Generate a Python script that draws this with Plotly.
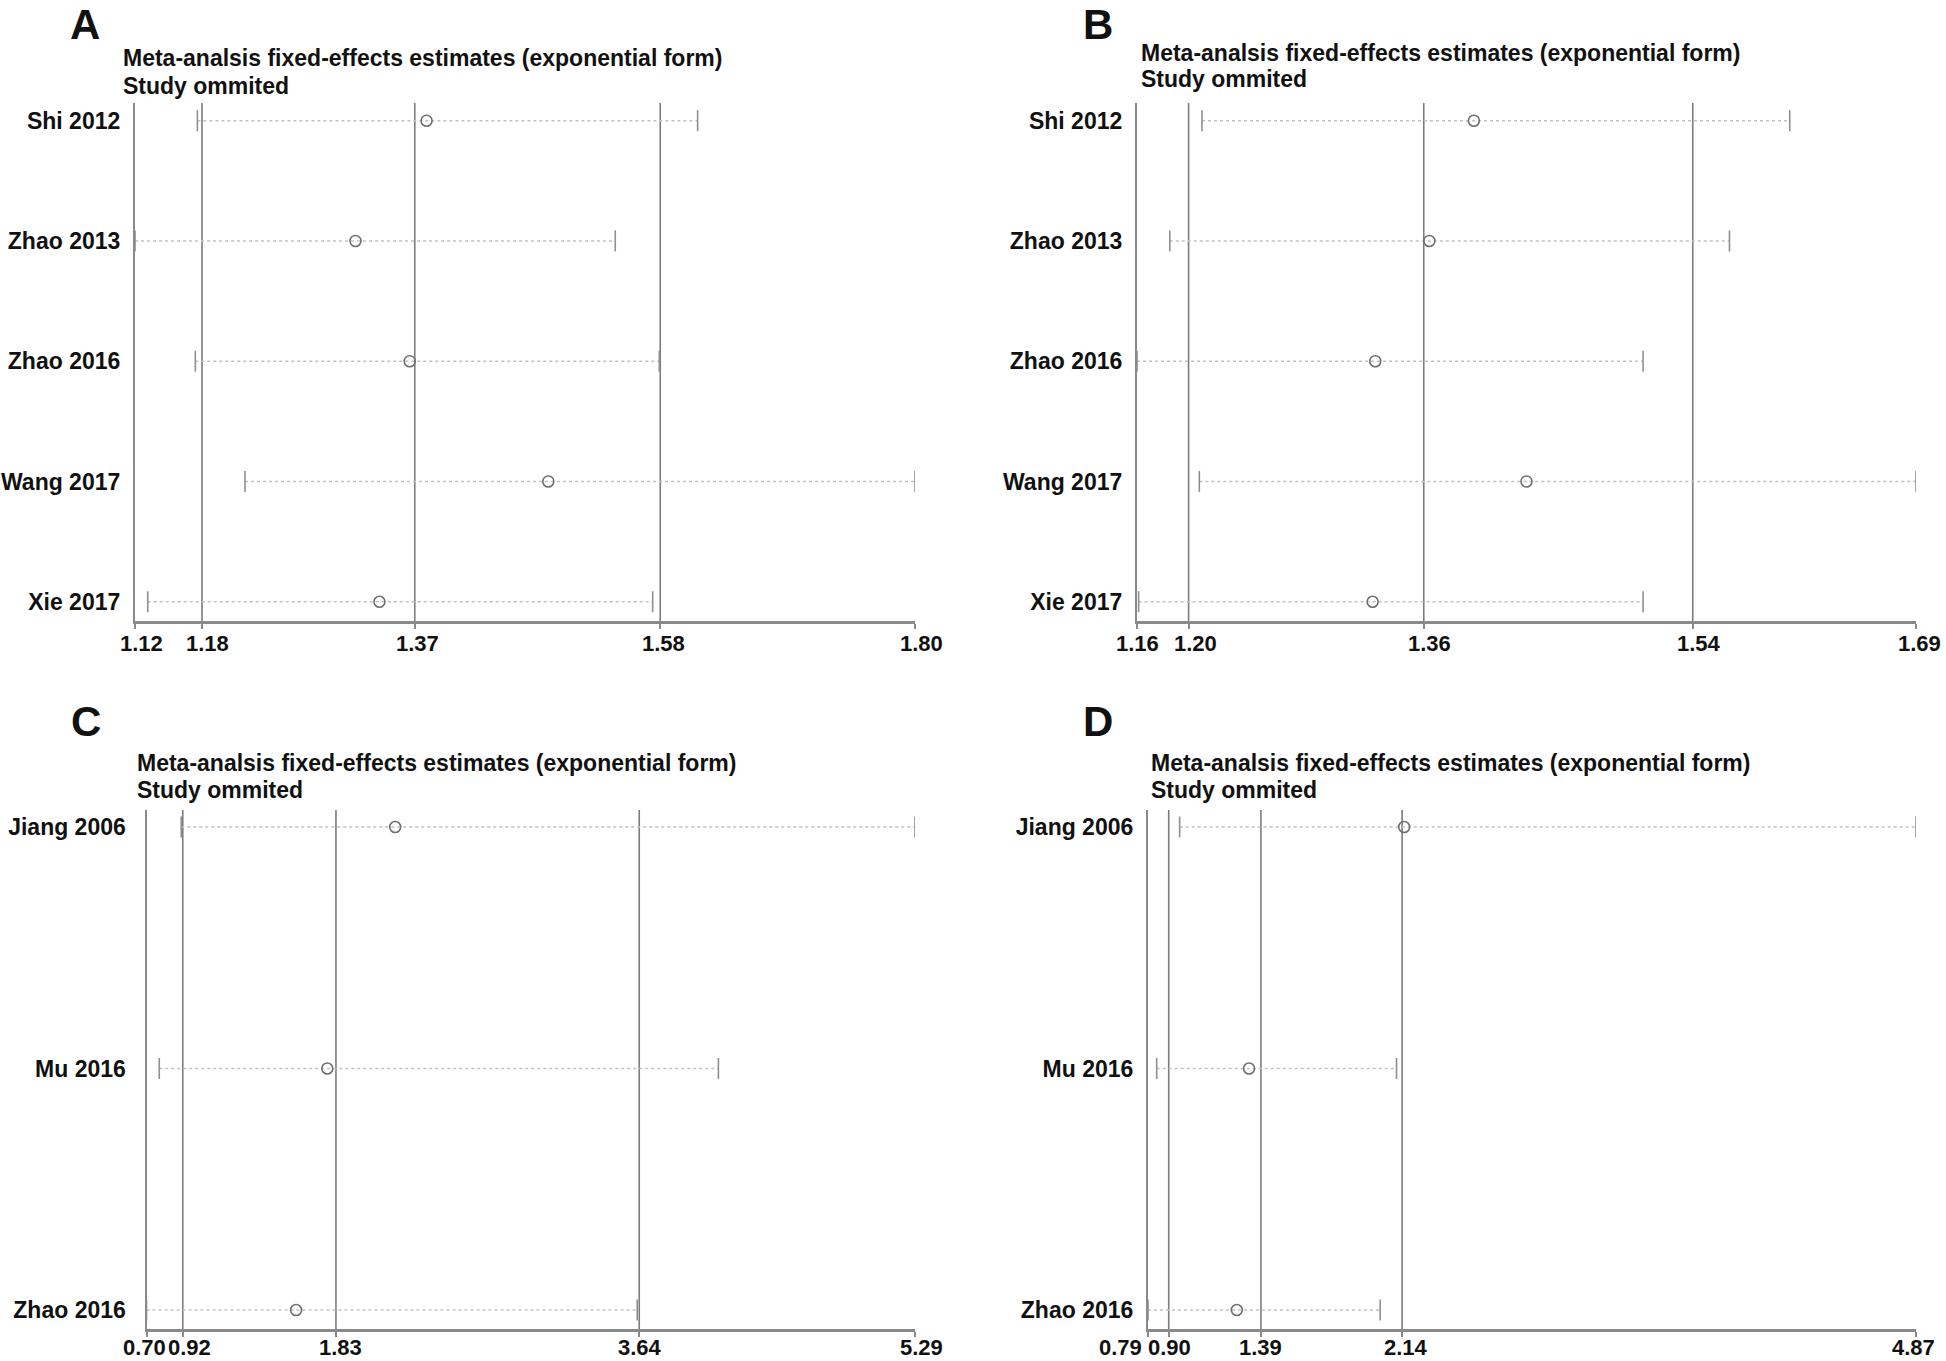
import plotly.graph_objects as go

# ---------------- data ----------------
studies_AB = ["Shi 2012", "Zhao 2013", "Zhao 2016", "Wang 2017", "Xie 2017"]
studies_CD = ["Jiang 2006", "Mu 2016", "Zhao 2016"]

est_A = [1.3791, 1.3171, 1.3644, 1.4852, 1.3380]
lo_A = [1.1793, 1.1249, 1.1775, 1.2208, 1.1360]
hi_A = [1.6154, 1.5436, 1.5820, 1.8049, 1.5762]
overall_A = [1.1833, 1.3688, 1.5828]
ticks_A = ["1.12", "1.18", "1.37", "1.58", "1.80"]

est_B = [1.3941, 1.3638, 1.3270, 1.4299, 1.3252]
lo_B = [1.2091, 1.1872, 1.1649, 1.2073, 1.1660]
hi_B = [1.6090, 1.5680, 1.5092, 1.6949, 1.5092]
overall_B = [1.2000, 1.3600, 1.5430]
ticks_B = ["1.16", "1.20", "1.36", "1.54", "1.69"]

est_C = [2.1853, 1.7796, 1.5936]
lo_C = [0.9074, 0.7762, 0.7000]
hi_C = [5.2900, 4.1158, 3.6309]
overall_C = [0.9166, 1.8315, 3.6430]
ticks_C = ["0.70", "0.92", "1.83", "3.64", "5.29"]

est_D = [2.1509, 1.3268, 1.2617]
lo_D = [0.9581, 0.8361, 0.7900]
hi_D = [4.8700, 2.1103, 2.0235]
overall_D = [0.9000, 1.3900, 2.1400]
ticks_D = ["0.79", "0.90", "1.39", "2.14", "4.87"]

panel_letters = ["A", "B", "C", "D"]
title_1 = "Meta-analsis fixed-effects estimates (exponential form)"
title_2 = "Study ommited"

# ---------------- layout / style ----------------
W, H = 1946, 1361
FONT = "Liberation Sans, Arial, sans-serif"
AXIS_GREY = "#8a8a8a"
REF_GREY = "#7c7c7c"
DOT_GREY = "#c2c2c2"
BLACK = "#111111"

panels = [
    dict(studies=studies_AB, est=est_A, lo=lo_A, hi=hi_A, overall=overall_A, ticks=ticks_A,
         xpx=(135, 915), ypx=(103, 621), yr=(0.8395, 5.147), ystand=8,
         tshift=[6, 6, 3, 3, 6], tdown=22,
         letter=(85, 25), t1=(121, 58), t2=(121, 86)),
    dict(studies=studies_AB, est=est_B, lo=lo_B, hi=hi_B, overall=overall_B, ticks=ticks_B,
         xpx=(1137, 1916), ypx=(103, 621), yr=(0.8395, 5.147), ystand=8,
         tshift=[0, 7, 6, 6, 3], tdown=22,
         letter=(1098, 25), t1=(1139, 53), t2=(1139, 79)),
    dict(studies=studies_CD, est=est_C, lo=lo_C, hi=hi_C, overall=overall_C, ticks=ticks_C,
         xpx=(146.5, 915), ypx=(810, 1329), yr=(0.9213, 3.0704), ystand=14,
         tshift=[-2, 7, 5, 1, 6], tdown=18,
         letter=(86, 722), t1=(135, 763), t2=(135, 790)),
    dict(studies=studies_CD, est=est_D, lo=lo_D, hi=hi_D, overall=overall_D, ticks=ticks_D,
         xpx=(1148, 1916), ypx=(810, 1329), yr=(0.9213, 3.0704), ystand=8,
         tshift=[-28, 1, 0, 4, -3], tdown=18,
         letter=(1098, 722), t1=(1149, 763), t2=(1149, 790)),
]

fig = go.Figure()
layout = dict(width=W, height=H, margin=dict(l=0, r=0, t=0, b=0, autoexpand=False),
              plot_bgcolor="white", paper_bgcolor="white", showlegend=False,
              font=dict(family=FONT, color=BLACK))
shapes = []
annotations = []

for i, p in enumerate(panels):
    n = i + 1
    xa = "x" if n == 1 else f"x{n}"
    ya = "y" if n == 1 else f"y{n}"
    k = len(p["studies"])
    ypos = list(range(k, 0, -1))
    xmin = min(p["lo"])
    xmax = max(p["hi"])

    # CI dotted lines
    for yv, lo, hi in zip(ypos, p["lo"], p["hi"]):
        fig.add_trace(go.Scatter(x=[lo, hi], y=[yv, yv], mode="lines", xaxis=xa, yaxis=ya,
                                 line=dict(color=DOT_GREY, width=1.6, dash="dot"),
                                 hoverinfo="skip"))
    # CI caps
    fig.add_trace(go.Scatter(x=p["lo"] + p["hi"], y=ypos + ypos, mode="markers", xaxis=xa, yaxis=ya,
                             marker=dict(symbol="line-ns", size=15, line=dict(color="#8f8f8f", width=1.6)),
                             hoverinfo="skip"))
    # point estimates
    fig.add_trace(go.Scatter(x=p["est"], y=ypos, mode="markers", xaxis=xa, yaxis=ya,
                             marker=dict(symbol="circle-open", size=11, color="#6f6f6f",
                                         line=dict(color="#6f6f6f", width=1.6))))

    # overall CI / estimate reference lines
    for v in p["overall"]:
        shapes.append(dict(type="line", xref=xa, yref=f"{ya} domain", x0=v, x1=v, y0=0, y1=1,
                           line=dict(color=REF_GREY, width=1.6), layer="below"))

    tickvals = [xmin] + p["overall"] + [xmax]
    x0p, x1p = p["xpx"]
    y0p, y1p = p["ypx"]
    layout[("xaxis" if n == 1 else f"xaxis{n}")] = dict(
        domain=[x0p / W, x1p / W], anchor=ya, range=[xmin, xmax], automargin=False,
        tickvals=tickvals, showticklabels=False, showgrid=False, zeroline=False,
        showline=True, linecolor=AXIS_GREY, linewidth=2.5,
        ticks="outside", ticklen=5, tickwidth=1.5, tickcolor=AXIS_GREY)
    layout[("yaxis" if n == 1 else f"yaxis{n}")] = dict(
        domain=[1 - y1p / H, 1 - y0p / H], anchor=xa, range=list(p["yr"]), automargin=False,
        tickvals=ypos, ticktext=p["studies"], showgrid=False, zeroline=False,
        showline=True, linecolor=AXIS_GREY, linewidth=2.2, ticks="",
        tickfont=dict(family=FONT, size=23, color=BLACK, weight="bold"),
        ticklabelstandoff=p["ystand"])

    # x tick labels (text placed on the axis scale, nudged to avoid overlap as in the original)
    for tv, tt, sh in zip(tickvals, p["ticks"], p["tshift"]):
        annotations.append(dict(text=tt, x=tv, y=0, xref=xa, yref=f"{ya} domain",
                                xanchor="center", yanchor="middle", xshift=sh, yshift=-p["tdown"],
                                showarrow=False,
                                font=dict(family=FONT, size=22, color=BLACK, weight="bold")))

    lx, ly = p["letter"]
    annotations.append(dict(text=panel_letters[i], x=lx / W, y=1 - ly / H, xref="paper", yref="paper",
                            xanchor="center", yanchor="middle", showarrow=False,
                            font=dict(family=FONT, size=42, color=BLACK, weight="bold")))
    for txt, (tx, ty) in ((title_1, p["t1"]), (title_2, p["t2"])):
        annotations.append(dict(text=txt, x=tx / W, y=1 - ty / H, xref="paper", yref="paper",
                                xanchor="left", yanchor="middle", showarrow=False,
                                font=dict(family=FONT, size=23, color=BLACK, weight="bold")))

layout["shapes"] = shapes
layout["annotations"] = annotations
fig.update_layout(**layout)
fig.write_html("out.html", config={"displayModeBar": False},
               post_script="document.body.style.margin='0';document.body.style.overflow='hidden';")
